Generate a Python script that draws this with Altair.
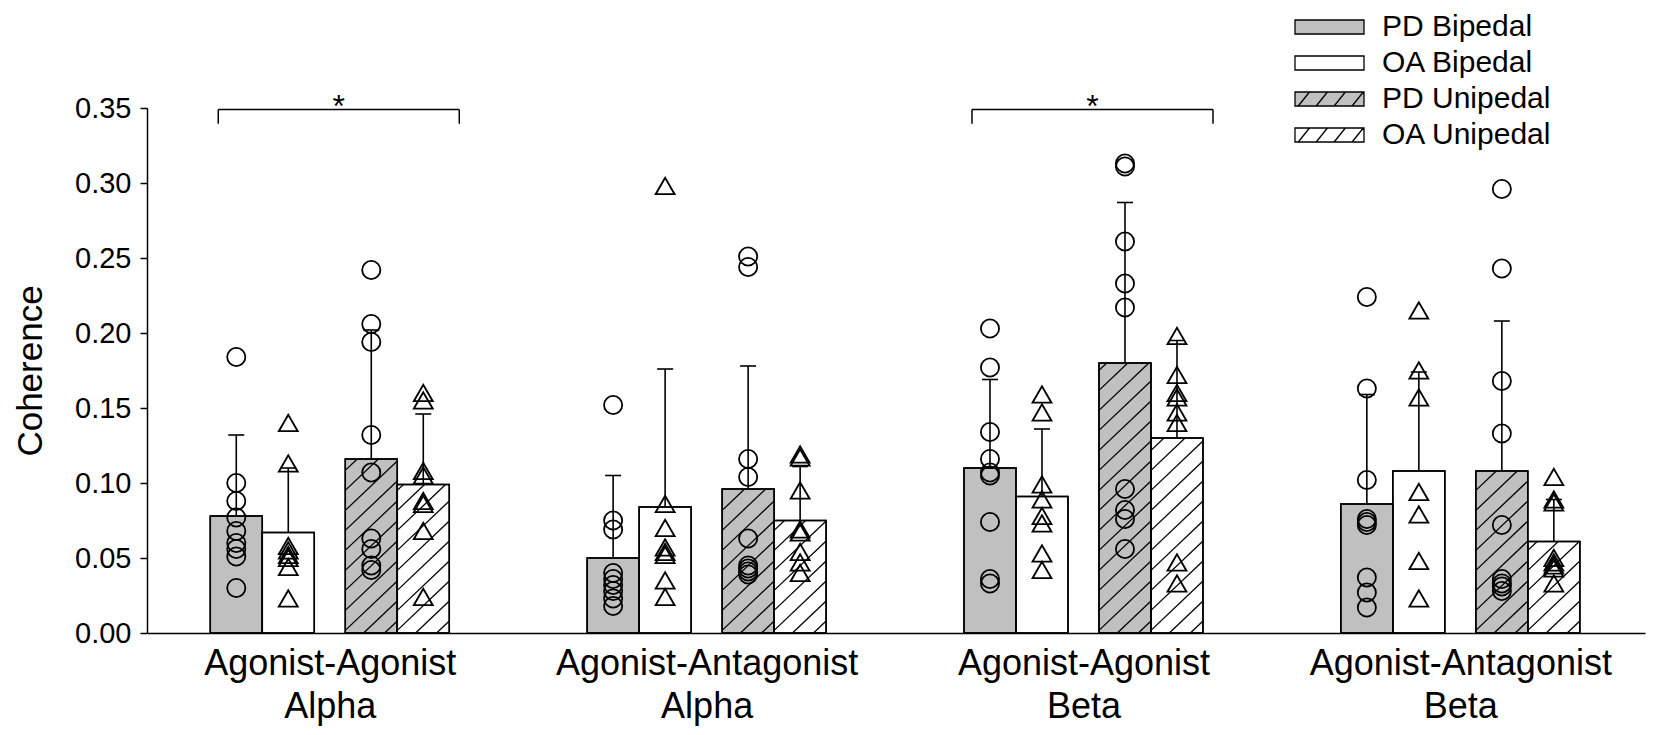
import altair as alt
import pandas as pd

FONT = "Liberation Sans"

# ---------------- data ----------------
group_labels = [["Agonist-Agonist", "Alpha"], ["Agonist-Antagonist", "Alpha"],
                ["Agonist-Agonist", "Beta"], ["Agonist-Antagonist", "Beta"]]
conditions = ["PD Bipedal", "OA Bipedal", "PD Unipedal", "OA Unipedal"]

mean_pd_bipedal = [0.078, 0.050, 0.110, 0.086]
mean_oa_bipedal = [0.067, 0.084, 0.091, 0.108]
mean_pd_unipedal = [0.116, 0.096, 0.180, 0.108]
mean_oa_unipedal = [0.099, 0.075, 0.130, 0.061]

upper_pd_bipedal = [0.132, 0.105, 0.169, 0.159]
upper_oa_bipedal = [0.110, 0.176, 0.136, 0.174]
upper_pd_unipedal = [0.202, 0.178, 0.287, 0.208]
upper_oa_unipedal = [0.146, 0.111, 0.195, 0.089]

pts_aa_alpha = {
    "PD Bipedal": [0.184, 0.100, 0.088, 0.077, 0.068, 0.060, 0.056, 0.051, 0.030],
    "OA Bipedal": [0.140, 0.113, 0.058, 0.055, 0.052, 0.050, 0.044, 0.023],
    "PD Unipedal": [0.242, 0.206, 0.194, 0.132, 0.107, 0.063, 0.056, 0.045, 0.042],
    "OA Unipedal": [0.160, 0.155, 0.108, 0.105, 0.088, 0.086, 0.068, 0.024],
}
pts_aant_alpha = {
    "PD Bipedal": [0.152, 0.075, 0.069, 0.040, 0.036, 0.032, 0.028, 0.023, 0.018],
    "OA Bipedal": [0.298, 0.086, 0.070, 0.057, 0.054, 0.052, 0.035, 0.024],
    "PD Unipedal": [0.251, 0.244, 0.116, 0.104, 0.063, 0.045, 0.043, 0.041, 0.039],
    "OA Unipedal": [0.119, 0.117, 0.095, 0.069, 0.067, 0.054, 0.047, 0.040],
}
pts_aa_beta = {
    "PD Bipedal": [0.203, 0.177, 0.134, 0.116, 0.107, 0.105, 0.074, 0.036, 0.033],
    "OA Bipedal": [0.159, 0.147, 0.099, 0.089, 0.078, 0.073, 0.053, 0.042],
    "PD Unipedal": [0.313, 0.311, 0.261, 0.233, 0.217, 0.096, 0.082, 0.076, 0.056],
    "OA Unipedal": [0.198, 0.172, 0.160, 0.157, 0.147, 0.140, 0.047, 0.033],
}
pts_aant_beta = {
    "PD Bipedal": [0.224, 0.163, 0.102, 0.076, 0.074, 0.072, 0.037, 0.027, 0.017],
    "OA Bipedal": [0.215, 0.175, 0.157, 0.094, 0.079, 0.048, 0.023],
    "PD Unipedal": [0.296, 0.243, 0.168, 0.133, 0.072, 0.036, 0.033, 0.031, 0.028],
    "OA Unipedal": [0.104, 0.089, 0.087, 0.050, 0.047, 0.045, 0.043, 0.033],
}

significant_groups = [0, 2]
bracket_level = [0.349, 0.349]
bracket_drop = [0.3395, 0.3395]
star_level = [0.3505, 0.3505]

y_ticks = [0.00, 0.05, 0.10, 0.15, 0.20, 0.25, 0.30, 0.35]

# ---------------- layout ----------------
W, H = 1498, 525
X_MIN, X_MAX = -0.485, 3.49
Y_MAX = 0.35
PX_X = W / (X_MAX - X_MIN)
PX_Y = H / Y_MAX
BAR_PX = 52
GAP_PX = 31
OFFS_PX = [-GAP_PX / 2 - 1.5 * BAR_PX, -GAP_PX / 2 - 0.5 * BAR_PX,
           GAP_PX / 2 + 0.5 * BAR_PX, GAP_PX / 2 + 1.5 * BAR_PX]
GRAY = "#c0c0c0"

# legend block (pixels relative to the plot's top-left corner)
LEG_X = 1148          # left edge of the swatches
LEG_Y0 = -81          # centre of the first row
LEG_DY = 36           # row spacing
SW_W, SW_H = 69, 14   # swatch size
LEG_TXT_GAP = 18

means = [mean_pd_bipedal, mean_oa_bipedal, mean_pd_unipedal, mean_oa_unipedal]
uppers = [upper_pd_bipedal, upper_oa_bipedal, upper_pd_unipedal, upper_oa_unipedal]
points_by_group = [pts_aa_alpha, pts_aant_alpha, pts_aa_beta, pts_aant_beta]

bar_rows = []
for g in range(len(group_labels)):
    for i, c in enumerate(conditions):
        xc = g + OFFS_PX[i] / PX_X
        bar_rows.append({
            "group": g, "cond": c, "mean": means[i][g], "upper": uppers[i][g],
            "xc": xc, "x0": xc - BAR_PX / 2 / PX_X, "x1": xc + BAR_PX / 2 / PX_X,
            "hatched": "Unipedal" in c,
        })
bars = pd.DataFrame(bar_rows)

pt_rows = []
for g, d in enumerate(points_by_group):
    for i, c in enumerate(conditions):
        xc = g + OFFS_PX[i] / PX_X
        for v in d[c]:
            pt_rows.append({"group": g, "cond": c, "value": v, "xc": xc,
                            "pop": c.split()[0]})
pts = pd.DataFrame(pt_rows)


def hatch(x0, x1, top, spacing=20.0, slope=0.95):
    bw = (x1 - x0) * PX_X
    h = top * PX_Y
    out = []
    c = -slope * bw + spacing * 0.6
    while c < h:
        us = max(0.0, -c / slope)
        ue = min(bw, (h - c) / slope)
        if ue - us > 0.5:
            out.append({"hx0": x0 + us / PX_X, "hy0": (slope * us + c) / PX_Y,
                        "hx1": x0 + ue / PX_X, "hy1": (slope * ue + c) / PX_Y})
        c += spacing
    return out


hatch_rows = []
for _, r in bars[bars["hatched"]].iterrows():
    hatch_rows += hatch(r["x0"], r["x1"], r["mean"])
hatch_df = pd.DataFrame(hatch_rows)

br_rows = []
for k, g in enumerate(significant_groups):
    bx0 = g + (OFFS_PX[0] - BAR_PX / 2 + 8) / PX_X
    bx1 = g + (OFFS_PX[3] + BAR_PX / 2 + 10) / PX_X
    br_rows.append({"bx0": bx0, "bx1": bx1, "bc": (bx0 + bx1) / 2,
                    "by": bracket_level[k], "bd": bracket_drop[k], "star": star_level[k]})
brackets = pd.DataFrame(br_rows)

# legend swatch symbols: custom SVG paths in the unit box [-1, 1]
R = (SW_H / 2) / (SW_W / 2)


def swatch_path(hatched):
    p = f"M-1,-{R:.4f}L1,-{R:.4f}L1,{R:.4f}L-1,{R:.4f}Z"
    if hatched:
        slope = 1.25
        dx = 2 * R / slope
        xb = -1.0 - dx + 0.42
        while xb < 1.0:
            x_s, y_s = xb, R
            x_e, y_e = xb + dx, -R
            if x_s < -1:
                y_s = R - (-1 - x_s) * slope
                x_s = -1
            if x_e > 1:
                y_e = -R + (x_e - 1) * slope
                x_e = 1
            if x_e > x_s:
                p += f"M{x_s:.3f},{y_s:.3f}L{x_e:.3f},{y_e:.3f}"
            xb += 0.52
    return p


shape_range = [swatch_path("Unipedal" in c) for c in conditions]
fill_range = [GRAY, "white", GRAY, "white"]

leg = pd.DataFrame({
    "cond": conditions,
    "sx": [LEG_X + SW_W / 2] * len(conditions),
    "tx": [LEG_X + SW_W + LEG_TXT_GAP] * len(conditions),
    "ly": [LEG_Y0 + i * LEG_DY for i in range(len(conditions))],
})

# ---------------- chart ----------------
xs = alt.Scale(domain=[X_MIN, X_MAX], nice=False, zero=False)
ys = alt.Scale(domain=[0, Y_MAX], nice=False, zero=True)

label_expr = "[" + ",".join(
    "[" + ",".join(f"'{s}'" for s in lab) + "]" for lab in group_labels
) + "][datum.value]"

x_axis = alt.Axis(values=list(range(len(group_labels))), labelExpr=label_expr, ticks=False,
                  tickSize=0, labelFontSize=36, labelFont=FONT, labelColor="black",
                  labelPadding=13, labelLineHeight=43, labelLimit=0,
                  domainColor="black", domainWidth=1.5,
                  title=None, grid=False, labelFlush=False, labelOverlap=False)
y_axis = alt.Axis(values=y_ticks, format=".2f", title="Coherence", labelFontSize=29,
                  labelFont=FONT, labelColor="black", titleFont=FONT, titleFontSize=35,
                  titleFontWeight="normal", titleColor="black", tickSize=7, tickWidth=1.5,
                  tickColor="black", domainColor="black", domainWidth=1.5, grid=False,
                  labelPadding=9, titleX=-117, titleY=H / 2, titleAngle=270,
                  titleAlign="center", titleBaseline="middle")

fill_scale = alt.Scale(domain=conditions, range=fill_range)
shape_scale = alt.Scale(domain=conditions, range=shape_range)


def X(f):
    return alt.X(f, type="quantitative", scale=xs, axis=x_axis)


def Y(f):
    return alt.Y(f, type="quantitative", scale=ys, axis=y_axis)


bar_layer = alt.Chart(bars).mark_bar(stroke="black", strokeWidth=1.5).encode(
    x=X("x0"), x2="x1", y=Y("mean"), y2=alt.datum(0),
    fill=alt.Fill("cond:N", scale=fill_scale, legend=None),
)
hatch_layer = alt.Chart(hatch_df).mark_rule(color="black", strokeWidth=1.3).encode(
    x=X("hx0"), x2="hx1", y=Y("hy0"), y2="hy1",
)
outline_layer = alt.Chart(bars).mark_bar(stroke="black", strokeWidth=1.5, fillOpacity=0).encode(
    x=X("x0"), x2="x1", y=Y("mean"), y2=alt.datum(0),
)
err_layer = alt.Chart(bars).mark_rule(color="black", strokeWidth=1.6).encode(
    x=X("xc"), y=Y("mean"), y2="upper",
)
cap_layer = alt.Chart(bars).mark_tick(orient="horizontal", size=16, thickness=1.6,
                                      color="black", opacity=1).encode(
    x=X("xc"), y=Y("upper"),
)
circle_layer = alt.Chart(pts).transform_filter(alt.datum.pop == "PD").mark_point(
    shape="circle", size=330, filled=False, color="black", strokeWidth=1.8, opacity=1
).encode(x=X("xc"), y=Y("value"))
tri_layer = alt.Chart(pts).transform_filter(alt.datum.pop == "OA").mark_point(
    shape="triangle-up", size=360, filled=False, color="black", strokeWidth=1.8, opacity=1
).encode(x=X("xc"), y=Y("value"))

br_h = alt.Chart(brackets).mark_rule(color="black", strokeWidth=1.5).encode(
    x=X("bx0"), x2="bx1", y=Y("by"))
br_l = alt.Chart(brackets).mark_rule(color="black", strokeWidth=1.5).encode(
    x=X("bx0"), y=Y("by"), y2="bd")
br_r = alt.Chart(brackets).mark_rule(color="black", strokeWidth=1.5).encode(
    x=X("bx1"), y=Y("by"), y2="bd")
star = alt.Chart(brackets).mark_text(text="*", fontSize=32, font=FONT, color="black",
                                     baseline="middle").encode(
    x=X("bc"), y=Y("star"))

# legend drawn as marks (swatch symbols + labels)
leg_sw = alt.Chart(leg).mark_point(filled=True, stroke="black", strokeWidth=1.3,
                                   opacity=1, size=SW_W * SW_W).encode(
    x=alt.X("sx:Q", scale=None, axis=None),
    y=alt.Y("ly:Q", scale=None, axis=None),
    fill=alt.Fill("cond:N", scale=fill_scale, legend=None),
    shape=alt.Shape("cond:N", scale=shape_scale, legend=None),
)
leg_tx = alt.Chart(leg).mark_text(align="left", baseline="middle", fontSize=30,
                                  font=FONT, color="black").encode(
    x=alt.X("tx:Q", scale=None, axis=None),
    y=alt.Y("ly:Q", scale=None, axis=None),
    text="cond:N",
)

chart = alt.layer(
    bar_layer, hatch_layer, outline_layer, err_layer, cap_layer,
    circle_layer, tri_layer, br_h, br_l, br_r, star, leg_sw, leg_tx,
).properties(
    width=W, height=H,
    autosize=alt.AutoSizeParams(type="none"),
    padding={"left": 139, "top": 100, "right": 1, "bottom": 93},
    background="white",
).configure_view(stroke=None)

chart.save("out.html", embed_options={"renderer": "svg", "actions": False})
